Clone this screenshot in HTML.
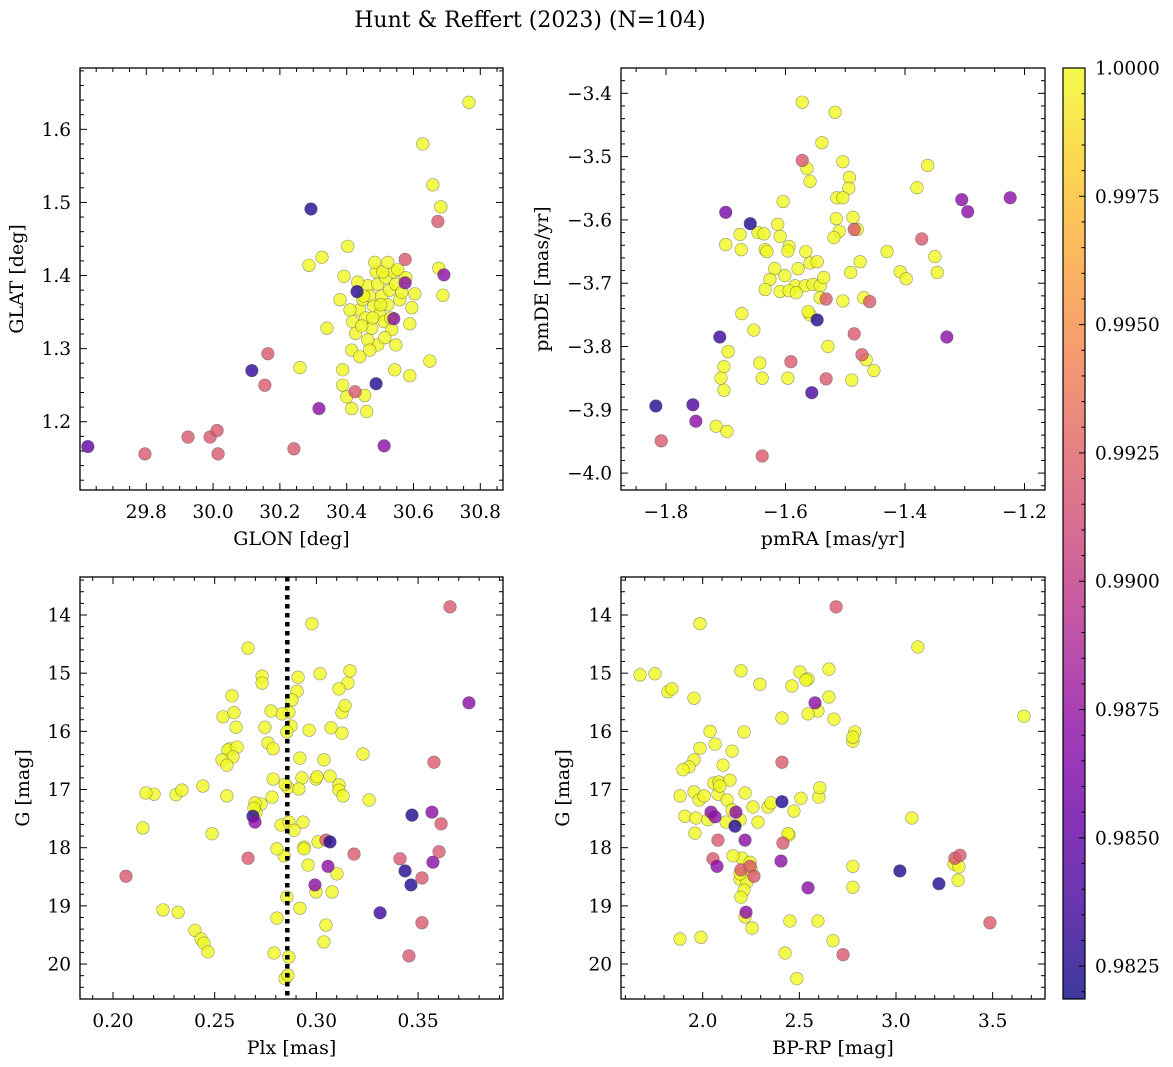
<!DOCTYPE html>
<html><head><meta charset="utf-8"><title>Hunt & Reffert (2023)</title>
<style>
html,body{margin:0;padding:0;background:#fff;}
svg{display:block;font-family:"DejaVu Serif","Liberation Serif",serif;}
</style></head>
<body>
<svg id="fig" width="1173" height="1067" viewBox="0 0 1173 1067" xmlns="http://www.w3.org/2000/svg">
<defs>
<linearGradient id="cbgrad" x1="0" y1="1" x2="0" y2="0">
<stop offset="0" stop-color="#0d0887"/><stop offset="0.1" stop-color="#41049d"/><stop offset="0.2" stop-color="#6a00a8"/><stop offset="0.3" stop-color="#8f0da4"/><stop offset="0.4" stop-color="#b12a90"/><stop offset="0.5" stop-color="#cc4778"/><stop offset="0.6" stop-color="#e16462"/><stop offset="0.7" stop-color="#f2844b"/><stop offset="0.8" stop-color="#fca636"/><stop offset="0.9" stop-color="#fcce25"/><stop offset="1" stop-color="#f0f921"/>
</linearGradient>
</defs>
<text x="530" y="27" font-size="22" text-anchor="middle">Hunt &amp; Reffert (2023) (N=104)</text>
</svg>
<script>
// ---------- Panel 1: GLON vs GLAT ----------
const glon = [29.625,29.796,29.925,29.991,30.012,30.015,30.116,30.164,30.155,30.242,30.293,30.317,30.431,30.488,30.425,30.512,30.575,30.575,30.541,30.673,30.691,
30.766,30.628,30.658,30.682,30.676,30.688,30.649,30.589,30.589,30.544,30.403,30.326,30.287,30.260,30.341,30.392,30.380,30.388,30.388,30.400,30.415,30.460,30.454,30.415,30.439,
30.418,30.427,30.439,30.448,30.457,30.463,30.469,30.475,30.481,30.488,30.493,30.499,30.505,30.512,30.517,30.523,30.529,30.535,30.541,30.547,30.553,30.559,30.565,30.547,30.493,30.463,30.451,30.484,30.508,30.523,30.514,30.469,30.577,30.604,30.595,30.410,30.433,30.445,30.478,30.502,30.532];
const glat = [1.166,1.156,1.179,1.179,1.188,1.156,1.270,1.293,1.250,1.163,1.491,1.218,1.378,1.252,1.241,1.167,1.422,1.390,1.341,1.474,1.401,
1.637,1.580,1.524,1.494,1.410,1.373,1.283,1.334,1.263,1.271,1.440,1.425,1.414,1.274,1.328,1.399,1.367,1.271,1.250,1.234,1.218,1.214,1.236,1.298,1.289,
1.337,1.321,1.353,1.367,1.342,1.386,1.372,1.328,1.358,1.405,1.388,1.347,1.372,1.337,1.397,1.360,1.380,1.326,1.405,1.388,1.408,1.367,1.377,1.305,1.305,1.312,1.372,1.418,1.405,1.418,1.315,1.298,1.397,1.375,1.356,1.353,1.391,1.331,1.342,1.360,1.342];
const prob1 = [0.985,0.992,0.992,0.992,0.992,0.992,0.983,0.992,0.992,0.992,0.9825,0.987,0.9825,0.9825,0.992,0.987,0.992,0.987,0.987,0.992,0.987];

// ---------- Panel 2: pmRA vs pmDE ----------
const pmra = [-1.817,-1.755,-1.750,-1.808,-1.700,-1.710,-1.659,-1.572,-1.639,-1.591,-1.556,-1.547,-1.532,-1.532,-1.485,-1.485,-1.459,-1.472,-1.372,-1.330,-1.305,-1.295,-1.224,
-1.572,-1.517,-1.539,-1.504,-1.564,-1.559,-1.493,-1.494,-1.514,-1.504,-1.380,-1.362,-1.604,-1.515,-1.487,-1.510,-1.519,-1.480,-1.700,-1.676,-1.646,-1.636,-1.613,-1.609,-1.594,-1.596,-1.634,-1.631,-1.674,-1.475,-1.430,-1.350,-1.408,-1.398,-1.346,-1.618,-1.601,-1.626,-1.579,-1.566,-1.559,-1.547,-1.584,-1.567,-1.554,-1.542,-1.536,-1.491,-1.609,-1.634,-1.594,-1.582,-1.542,-1.504,-1.469,-1.559,-1.673,-1.529,-1.703,-1.708,-1.696,-1.653,-1.639,-1.643,-1.703,-1.596,-1.489,-1.465,-1.452,-1.716,-1.698,-1.562];
const pmde = [-3.894,-3.892,-3.918,-3.949,-3.588,-3.785,-3.606,-3.506,-3.973,-3.824,-3.873,-3.758,-3.725,-3.851,-3.615,-3.780,-3.729,-3.813,-3.630,-3.785,-3.568,-3.587,-3.565,
-3.414,-3.430,-3.478,-3.508,-3.519,-3.539,-3.533,-3.550,-3.565,-3.565,-3.549,-3.514,-3.571,-3.598,-3.596,-3.618,-3.628,-3.615,-3.639,-3.623,-3.620,-3.622,-3.607,-3.626,-3.642,-3.649,-3.647,-3.650,-3.647,-3.666,-3.650,-3.658,-3.682,-3.693,-3.683,-3.677,-3.688,-3.694,-3.677,-3.650,-3.668,-3.666,-3.704,-3.704,-3.702,-3.704,-3.691,-3.683,-3.713,-3.710,-3.712,-3.715,-3.723,-3.728,-3.723,-3.750,-3.748,-3.800,-3.832,-3.850,-3.808,-3.774,-3.850,-3.826,-3.869,-3.850,-3.853,-3.821,-3.838,-3.926,-3.934,-3.745];
const prob2 = [0.9825,0.984,0.987,0.992,0.986,0.9835,0.9825,0.992,0.992,0.992,0.984,0.9825,0.992,0.992,0.992,0.992,0.992,0.992,0.992,0.987,0.987,0.987,0.987];

// ---------- Panel 3: Plx vs G ----------
const plx = [0.3657,0.3750,0.3470,0.3568,0.3573,0.3603,0.3613,0.3578,0.3411,0.3436,0.3465,0.3519,0.3519,0.3455,0.3313,0.3185,0.3047,0.3067,0.3057,0.2993,0.2664,0.2688,0.2698,0.2064,
0.2664,0.2733,0.2733,0.2910,0.2905,0.2880,0.2865,0.2831,0.2875,0.2855,0.2777,0.2747,0.2762,0.2585,0.2541,0.2595,0.2605,0.2575,0.2565,0.2610,0.2590,0.2536,0.2560,0.2787,0.2787,0.2782,0.2860,0.2929,0.2998,0.3003,0.3067,0.2914,0.2934,0.2919,0.2964,0.3072,0.3126,0.3141,0.3155,0.3165,0.3111,0.3018,0.2978,0.3126,0.3037,0.3229,0.3259,0.3111,0.3111,0.3131,0.2939,0.3101,0.3077,0.2998,0.3008,0.2959,0.2919,0.3047,0.3037,0.2806,0.2403,0.2433,0.2447,0.2467,0.2487,0.2147,0.2202,0.2310,0.2442,0.2339,0.2320,0.2246,0.2162,0.2560,0.2728,0.2826,0.2865,0.2890,0.2841,0.2806,0.2855,0.2865,0.2939,0.2792,0.2846,0.2860,0.2698,0.2703,0.2846,0.2693];
const gmag3 = [13.86,15.51,17.44,17.39,18.25,18.07,17.59,16.53,18.19,18.40,18.64,18.52,19.29,19.86,19.12,18.11,17.87,17.90,18.32,18.64,18.18,17.46,17.56,18.49,
14.57,15.05,15.17,15.07,15.31,15.46,15.67,15.70,15.91,16.01,15.65,15.93,16.20,15.39,15.75,15.68,15.93,16.30,16.32,16.27,16.44,16.49,16.58,16.30,16.82,17.13,16.97,16.80,16.82,16.78,16.77,16.99,17.56,16.46,15.98,15.94,15.68,15.56,15.17,14.96,15.27,15.01,14.15,16.03,16.49,16.39,17.18,16.92,17.01,17.11,17.99,18.45,18.76,18.76,17.90,18.30,19.04,19.33,19.62,19.21,19.42,19.57,19.64,19.79,17.76,17.66,17.08,17.09,16.94,17.01,19.11,19.07,17.06,17.11,17.25,17.61,17.56,17.70,18.14,18.02,18.85,19.88,18.02,19.81,20.25,20.19,17.23,17.39,16.91,17.32];
const prob3 = [0.992,0.987,0.9825,0.987,0.987,0.992,0.992,0.992,0.992,0.9825,0.9825,0.992,0.992,0.992,0.9835,0.992,0.992,0.9825,0.987,0.987,0.992,0.9825,0.987,0.992];
const meanPlx = [0.2857];

// ---------- Panel 4: BP-RP vs G ----------
const bprp = [2.690,2.581,2.410,2.172,2.043,2.064,2.167,2.079,2.219,2.053,2.074,2.198,2.245,2.265,2.415,2.405,2.410,2.224,2.545,3.020,3.222,3.305,3.331,3.486,2.726,
1.986,1.676,1.753,1.820,1.841,1.955,2.198,2.296,2.503,2.545,2.534,2.653,2.653,2.679,2.596,2.545,2.461,2.410,2.787,2.777,2.777,3.113,3.662,3.082,3.300,3.326,3.321,2.777,2.596,2.674,2.451,2.426,2.219,1.991,1.883,2.255,2.105,2.152,2.214,2.038,2.064,1.986,1.955,1.929,1.898,1.955,1.981,2.007,2.058,2.084,2.079,2.141,2.219,2.126,2.152,2.193,2.121,2.203,2.245,2.193,2.229,2.214,2.198,2.157,1.960,1.883,1.908,1.965,2.027,2.089,2.260,2.338,2.353,2.446,2.472,2.601,2.606,2.508,2.441,2.777,2.286,2.193,2.250,2.487];
const gmag4 = [13.86,15.51,17.21,17.39,17.39,17.47,17.63,17.87,17.87,18.19,18.32,18.38,18.32,18.49,17.92,18.23,16.53,19.11,18.69,18.40,18.62,18.18,18.13,19.29,19.84,
14.15,15.03,15.01,15.32,15.27,15.43,14.96,15.19,14.98,15.10,15.12,14.93,15.41,15.79,15.65,15.70,15.22,15.77,16.01,16.17,16.10,14.55,15.74,17.49,18.28,18.33,18.56,18.68,19.26,19.60,19.26,19.81,19.19,19.54,19.57,19.38,16.58,16.34,16.01,16.00,16.22,16.29,16.49,16.61,16.66,17.04,17.18,17.11,16.89,16.87,17.08,16.84,17.06,17.18,17.35,17.52,17.56,18.18,18.25,18.54,18.59,18.73,18.85,18.14,17.75,17.11,17.46,17.49,17.52,16.94,17.30,17.30,17.23,17.78,17.37,17.13,16.97,17.15,17.76,18.32,17.56,18.45,18.37,20.25];
const prob4 = [0.992,0.987,0.9825,0.987,0.987,0.987,0.9825,0.992,0.987,0.992,0.987,0.992,0.992,0.992,0.992,0.987,0.992,0.987,0.987,0.9825,0.9825,0.992,0.992,0.992,0.992];

// tick arrays
const p1xTicks = [29.8,30.0,30.2,30.4,30.6,30.8];
const p1yTicks = [1.2,1.3,1.4,1.5,1.6];
const p2xTicks = [-1.8,-1.6,-1.4,-1.2];
const p2yTicks = [-3.4,-3.5,-3.6,-3.7,-3.8,-3.9,-4.0];
const p3xTicks = [0.20,0.25,0.30,0.35];
const gTicks = [14,15,16,17,18,19,20];
const p4xTicks = [2.0,2.5,3.0,3.5];
const cbTicks = [0.9825,0.9850,0.9875,0.9900,0.9925,0.9950,0.9975,1.0000];
const cbRange = [0.98186,1.0];

const NS = "http://www.w3.org/2000/svg";
const svg = document.getElementById('fig');
function mk(tag, attrs, parent){const e=document.createElementNS(NS,tag);for(const k in attrs)e.setAttribute(k,attrs[k]);(parent||svg).appendChild(e);return e;}

const stops=[[13,8,135],[65,4,157],[106,0,168],[143,13,164],[177,42,144],[204,71,120],[225,100,98],[242,132,75],[252,166,54],[252,206,37],[240,249,33]];
function plasma(t){t=Math.max(0,Math.min(1,t));const s=t*10;const i=Math.min(9,Math.floor(s));const f=s-i;const a=stops[i],b=stops[i+1];
return 'rgb('+[0,1,2].map(k=>Math.round(a[k]+(b[k]-a[k])*f)).join(',')+')';}
function probColor(p){return plasma((p-cbRange[0])/(cbRange[1]-cbRange[0]));}
function fmt(v,d){return (v<0?'\u2212':'')+Math.abs(v).toFixed(d);}

const TICKFS=18.5, LABFS=19;

function panel(cfg){
  const {name,L,R,T,B,xd,yd,xinv,yinv}=cfg;
  const sx=v=>L+(v-xd[0])/(xd[1]-xd[0])*(R-L);
  const sy=yinv? (v=>T+(v-yd[0])/(yd[1]-yd[0])*(B-T)) : (v=>B-(v-yd[0])/(yd[1]-yd[0])*(B-T));
  const g=mk('g',{});
  
  
  const pts=mk('g',{},g);
  
  
  const n=cfg.x.length, nc=cfg.p.length;
  const order=[];for(let i=nc;i<n;i++)order.push(i);for(let i=0;i<nc;i++)order.push(i);
  order.forEach(i=>{
    const p=i<nc?cfg.p[i]:1.0;
    const c=mk('circle',{cx:sx(cfg.x[i]),cy:sy(cfg.y[i]),r:6.3,fill:probColor(p),'fill-opacity':0.8,stroke:'#444','stroke-opacity':0.55,'stroke-width':0.6},pts);
    
    
  });
  if(cfg.vline){cfg.vline.forEach(v=>{
    const l=mk('line',{x1:sx(v),x2:sx(v),y1:T,y2:B,stroke:'#000','stroke-width':4.5,'stroke-dasharray':'4.5,4.5'},g);
    
    
  });}
  const fr=mk('rect',{x:L,y:T,width:R-L,height:B-T,fill:'none',stroke:'#000','stroke-width':1.3},g);
  
  
  const tk=mk('g',{stroke:'#000','stroke-width':1},g);
  
  
  const mx=cfg.xminor,my=cfg.yminor;
  for(let v=Math.ceil(Math.min(...xd)/mx)*mx; v<=Math.max(...xd)+1e-9; v+=mx){const X=sx(v);
    const major=Math.abs(Math.round(v/cfg.xmajor)*cfg.xmajor-v)<mx/10;const len=major?7:4;
    mk('line',{x1:X,x2:X,y1:B,y2:B-len},tk);mk('line',{x1:X,x2:X,y1:T,y2:T+len},tk);}
  const ylo=Math.min(...yd),yhi=Math.max(...yd);
  for(let v=Math.ceil(ylo/my)*my; v<=yhi+1e-9; v+=my){const Y=sy(v);
    const major=Math.abs(Math.round(v/cfg.ymajor)*cfg.ymajor-v)<my/10;const len=major?7:4;
    mk('line',{x1:L,x2:L+len,y1:Y,y2:Y},tk);mk('line',{x1:R,x2:R-len,y1:Y,y2:Y},tk);}
  cfg.xt.forEach(v=>{const t=mk('text',{x:sx(v),y:B+28,'font-size':TICKFS,'text-anchor':'middle'},g);t.textContent=fmt(v,cfg.xdec);
    
    });
  cfg.yt.forEach(v=>{const t=mk('text',{x:L-9,y:sy(v)+6.5,'font-size':TICKFS,'text-anchor':'end'},g);t.textContent=fmt(v,cfg.ydec);
    
    });
  const xl=mk('text',{x:(L+R)/2,y:B+55,'font-size':LABFS,'text-anchor':'middle'},g);xl.textContent=cfg.xlabel;
  
  
  const yl=mk('text',{x:0,y:0,'font-size':LABFS,'text-anchor':'middle',transform:'translate('+cfg.ylx+','+(T+B)/2+') rotate(-90)'},g);yl.textContent=cfg.ylabel;
  
  
}

panel({name:'glon-glat-panel',L:80,R:503,T:68,B:490,xd:[29.6015,30.868],yd:[1.1066,1.6839],x:glon,y:glat,p:prob1,xt:p1xTicks,yt:p1yTicks,xminor:0.05,xmajor:0.2,yminor:0.02,ymajor:0.1,xdec:1,ydec:1,xlabel:'GLON [deg]',ylabel:'GLAT [deg]',ylx:23});
panel({name:'pm-panel',L:621,R:1045,T:68,B:490,xd:[-1.8753,-1.1657],yd:[-4.0267,-3.36],x:pmra,y:pmde,p:prob2,xt:p2xTicks,yt:p2yTicks,xminor:0.05,xmajor:0.2,yminor:0.02,ymajor:0.1,xdec:1,ydec:1,xlabel:'pmRA [mas/yr]',ylabel:'pmDE [mas/yr]',ylx:548});
panel({name:'plx-g-panel',L:80,R:503,T:577,B:999,xd:[0.18378,0.39174],yd:[13.347,20.601],yinv:true,x:plx,y:gmag3,p:prob3,vline:meanPlx,xt:p3xTicks,yt:gTicks,xminor:0.01,xmajor:0.05,yminor:0.2,ymajor:1,xdec:2,ydec:0,xlabel:'Plx [mas]',ylabel:'G [mag]',ylx:29});
panel({name:'cmd-panel',L:621,R:1045,T:577,B:999,xd:[1.5773,3.7708],yd:[13.347,20.601],yinv:true,x:bprp,y:gmag4,p:prob4,xt:p4xTicks,yt:gTicks,xminor:0.1,xmajor:0.5,yminor:0.2,ymajor:1,xdec:1,ydec:0,xlabel:'BP-RP [mag]',ylabel:'G [mag]',ylx:569});

// colorbar
(function(){
  const L=1063,R=1085,T=68,B=999;
  const cy=v=>B-(v-cbRange[0])/(cbRange[1]-cbRange[0])*(B-T);
  const g=mk('g',{});
  
  
  mk('rect',{x:L,y:T,width:R-L,height:B-T,fill:'url(#cbgrad)','fill-opacity':0.8},g);
  mk('rect',{x:L,y:T,width:R-L,height:B-T,fill:'none',stroke:'#000','stroke-width':1.2},g);
  for(let k=0;k<=40;k++){const v=0.982+k*0.0005;if(v<cbRange[0]-1e-9||v>1.00001)continue;const Y=cy(v);
    const major=cbTicks.some(t=>Math.abs(t-v)<1e-5);mk('line',{x1:R,x2:R-(major?6:3.5),y1:Y,y2:Y,stroke:'#000','stroke-width':1},g);}
  cbTicks.forEach(v=>{const t=mk('text',{x:R+10,y:cy(v)+6.5,'font-size':TICKFS},g);t.textContent=v.toFixed(4);
    
    });
})();
</script>
</body></html>
